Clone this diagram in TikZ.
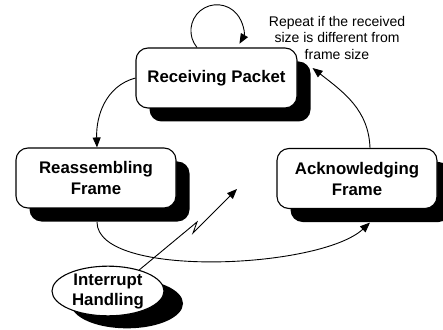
\documentclass[tikz,border=0pt]{standalone}
\usepackage{fontspec}
\setmainfont{Liberation Sans}
\usetikzlibrary{shadows,shapes.geometric,arrows.meta}
\begin{document}
\begin{tikzpicture}[x=1pt,y=1pt,
  shd/.style={drop shadow={opacity=1,fill=black,shadow xshift=13.5pt,shadow yshift=-13.5pt}},
  statebox/.style={draw=black,line width=1.1pt,fill=white,rounded corners=12pt,shd,
    minimum width=160pt,minimum height=60pt,align=center,inner sep=0pt,
    font=\fontsize{16.8}{21}\selectfont\bfseries},
  stateell/.style={draw=black,line width=1.1pt,fill=white,ellipse,
    drop shadow={opacity=1,fill=black,shadow xshift=19pt,shadow yshift=-12.5pt},
    minimum width=112pt,minimum height=48pt,align=center,inner sep=0pt,
    font=\fontsize{16.8}{20}\selectfont\bfseries},
  arr/.style={line width=0.9pt,-{Triangle[length=10pt,width=8pt]}},
  note/.style={align=center,font=\fontsize{14}{16.5}\selectfont}
]
\useasboundingbox (0,0) rectangle (443,329);

\node[statebox,minimum width=161pt] (rp) at (216.5,251) {Receiving Packet};
\node[statebox] (ra) at (96,151) {Reassembling\\Frame};
\node[statebox] (ak) at (357,150.5) {Acknowledging\\Frame};
\node[stateell] (ih) at (108,38) {Interrupt\\Handling};

\node[note] (nt) at (337,291) {Repeat if the received\\size is different from\\frame size};

% self loop
\draw[arr] ([xshift=-19.5pt]rp.north) arc[start angle=220, end angle=-30, radius=26pt];
% receiving -> reassembling
\draw[arr] (rp.west) to[out=195,in=92] ([xshift=1pt]ra.north);
% acknowledging -> receiving
\draw[arr] ([xshift=13pt]ak.north) to[out=92,in=-38] ([xshift=15pt,yshift=10pt]rp.east);
% reassembling -> acknowledging
\draw[arr] ([xshift=1pt,yshift=-13.5pt]ra.south) .. controls (97,50) and (320,60) .. ([xshift=13pt,yshift=-13.5pt]ak.south);
% interrupt lightning
\coordinate (z1) at (197,107);
\coordinate (z2) at (193,96);
\coordinate (zt) at (237,140);
\draw[arr] (ih.34) -- (z1) -- (z2) -- (zt);
\end{tikzpicture}
\end{document}
